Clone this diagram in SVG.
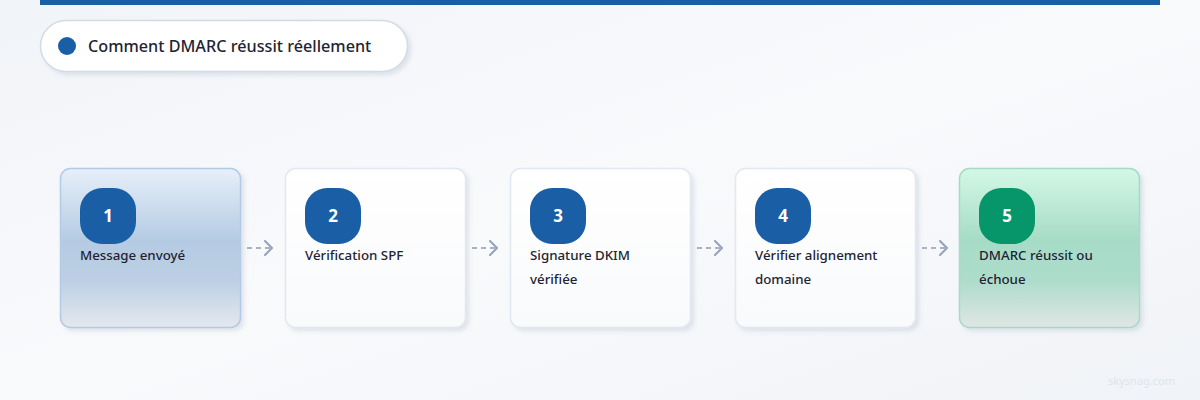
<svg xmlns="http://www.w3.org/2000/svg" width="1200" height="400" viewBox="0 0 1200 400">
<defs>
<linearGradient id="bg" x1="0" y1="0" x2="1" y2="1">
<stop offset="0" stop-color="#f1f4f8"/>
<stop offset="0.5" stop-color="#f9fafc"/>
<stop offset="1" stop-color="#f0f3f7"/>
</linearGradient>
<linearGradient id="g1" x1="0" y1="0" x2="0" y2="1">
<stop offset="0" stop-color="#e7effa"/>
<stop offset="0.45" stop-color="#b5cbe3"/>
<stop offset="0.7" stop-color="#bccfe4"/>
<stop offset="1" stop-color="#e4e8ee"/>
</linearGradient>
<linearGradient id="g5" x1="0" y1="0" x2="0" y2="1">
<stop offset="0" stop-color="#d3f8e6"/>
<stop offset="0.45" stop-color="#a6dcc7"/>
<stop offset="0.7" stop-color="#addccb"/>
<stop offset="1" stop-color="#e0e6e5"/>
</linearGradient>
<linearGradient id="gw" x1="0" y1="0" x2="0" y2="1">
<stop offset="0" stop-color="#ffffff"/>
<stop offset="1" stop-color="#f9fafc"/>
</linearGradient>
<filter id="sh" x="-20%" y="-20%" width="140%" height="140%">
<feDropShadow dx="3" dy="3" stdDeviation="2" flood-color="#94a3b8" flood-opacity="0.25"/>
</filter>
<marker id="chev" viewBox="0 0 10 16" refX="8" refY="8" markerWidth="10" markerHeight="16" markerUnits="userSpaceOnUse" orient="auto">
<path d="M1 1 L8 8 L1 15" fill="none" stroke="#94a3b8" stroke-width="2" stroke-linecap="round" stroke-linejoin="round"/>
</marker>
</defs>
<style>
.card{stroke-width:1.5;filter:url(#sh)}
.plain{fill:url(#gw);stroke:#e2e8f0}
.badge{fill:#1a5ea6}
.num{font-family:"Noto Sans","Open Sans",sans-serif;font-weight:700;font-size:17px;fill:#ffffff;text-anchor:middle}
.lbl{font-family:"Noto Sans","Open Sans",sans-serif;font-weight:500;font-size:13.3px;fill:#1e2433}
.conn{fill:none;stroke:#a8b4c6;stroke-width:2;stroke-dasharray:5 4}
</style>
<rect x="0" y="0" width="1200" height="400" fill="url(#bg)"/>
<rect x="40" y="0" width="1120" height="5" fill="#1a5ea6"/>
<g id="title">
<rect x="40.5" y="20.5" width="367" height="51" rx="25.5" fill="#ffffff" stroke="#d3dbe6" stroke-width="1.5" filter="url(#sh)"/>
<circle cx="67" cy="46" r="9" fill="#1a5ea6"/>
<text x="88" y="52" font-family="'Noto Sans','Open Sans',sans-serif" font-weight="500" font-size="16.2" fill="#1e2433">Comment DMARC réussit réellement</text>
</g>
<g id="connectors">
<path class="conn" d="M247 248 H272" marker-end="url(#chev)"/>
<path class="conn" d="M472 248 H497" marker-end="url(#chev)"/>
<path class="conn" d="M697 248 H722" marker-end="url(#chev)"/>
<path class="conn" d="M922 248 H947" marker-end="url(#chev)"/>
</g>
<g id="node1">
<rect class="card" x="60.5" y="168.5" width="180" height="159" rx="10" fill="url(#g1)" stroke="#b3cae5"/>
<rect class="badge" x="80" y="188" width="56" height="56" rx="22"/>
<text class="num" x="108" y="222">1</text>
<text class="lbl" x="80" y="260">Message envoyé</text>
</g>
<g id="node2">
<rect class="card plain" x="285.5" y="168.5" width="180" height="159" rx="10"/>
<rect class="badge" x="305" y="188" width="56" height="56" rx="22"/>
<text class="num" x="333" y="222">2</text>
<text class="lbl" x="305" y="260">Vérification SPF</text>
</g>
<g id="node3">
<rect class="card plain" x="510.5" y="168.5" width="180" height="159" rx="10"/>
<rect class="badge" x="530" y="188" width="56" height="56" rx="22"/>
<text class="num" x="558" y="222">3</text>
<text class="lbl" x="530" y="260">Signature DKIM</text>
<text class="lbl" x="530" y="284">vérifiée</text>
</g>
<g id="node4">
<rect class="card plain" x="735.5" y="168.5" width="180" height="159" rx="10"/>
<rect class="badge" x="755" y="188" width="56" height="56" rx="22"/>
<text class="num" x="783" y="222">4</text>
<text class="lbl" x="755" y="260">Vérifier alignement</text>
<text class="lbl" x="755" y="284">domaine</text>
</g>
<g id="node5">
<rect class="card" x="959.5" y="168.5" width="180" height="159" rx="10" fill="url(#g5)" stroke="#a6dac7"/>
<rect x="979" y="188" width="56" height="56" rx="22" fill="#079669"/>
<text class="num" x="1007" y="222">5</text>
<text class="lbl" x="979" y="260">DMARC réussit ou</text>
<text class="lbl" x="979" y="284">échoue</text>
</g>
<text x="1175" y="385" text-anchor="end" font-family="'Noto Sans','Open Sans',sans-serif" font-size="11" fill="#dfe4eb">skysnag.com</text>
</svg>
